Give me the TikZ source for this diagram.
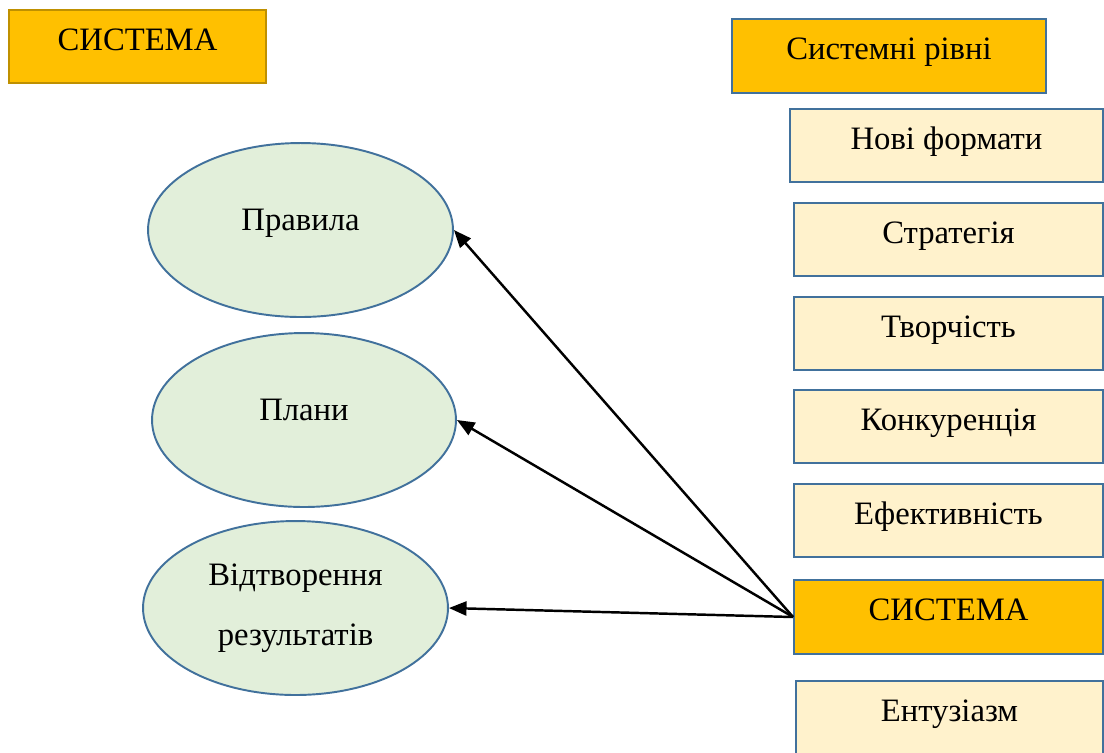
\documentclass[tikz,border=0pt]{standalone}
\usepackage{fontspec}
\setmainfont{Liberation Serif}
\usetikzlibrary{shapes.geometric}
\usetikzlibrary{arrows.meta}

\definecolor{gold}{HTML}{FFC000}
\definecolor{darkgold}{HTML}{BF9000}
\definecolor{paleyellow}{HTML}{FFF2CC}
\definecolor{palegreen}{HTML}{E2EFDA}
\definecolor{edgeblue}{HTML}{41719C}

\begin{document}
\begin{tikzpicture}[x=0.02cm,y=-0.02cm,
  every node/.style={font=\fontsize{18.6}{34}\selectfont,inner sep=0pt},
  goldbox/.style={draw=edgeblue,line width=1.1pt,fill=gold,minimum height=1.46cm,text height=.7em,text depth=.25em},
  levelbox/.style={draw=edgeblue,line width=1.1pt,fill=paleyellow,minimum width=6.18cm,minimum height=1.46cm,text height=.7em,text depth=.25em},
  oval/.style={ellipse,draw=edgeblue,line width=1.1pt,fill=palegreen,minimum width=6.1cm,minimum height=3.48cm,align=center},
  oneline/.style={text height=.7em,text depth=.68em},
  link/.style={-{Triangle[length=10pt,width=8pt]},line width=1.4pt}]

\clip (0,0) rectangle (1104,752);
\useasboundingbox (0,0) rectangle (1104,752);

\node[goldbox,draw=darkgold,minimum width=5.14cm] (sysL) at (137.5,46.5) {СИСТЕМА};
\node[goldbox,minimum width=6.28cm,minimum height=1.48cm] (levels) at (889,56) {Системні рівні};

\node[levelbox,minimum width=6.26cm] (formats) at (946.5,145.5) {Нові формати};
\node[levelbox] (strategy) at (948.5,239.5) {Стратегія};
\node[levelbox] (creativity) at (948.5,333.5) {Творчість};
\node[levelbox] (competition) at (948.5,426.5) {Конкуренція};
\node[levelbox] (efficiency) at (948.5,520.5) {Ефективність};
\node[goldbox,minimum width=6.18cm,minimum height=1.48cm] (sysR) at (948.5,617) {СИСТЕМА};
\node[levelbox,minimum width=6.14cm] (enthusiasm) at (949.5,717.5) {Ентузіазм};

\node[oval,oneline] (rules) at (300.5,230) {Правила};
\node[oval,oneline,minimum width=6.08cm] (plans) at (304,420) {Плани};
\node[oval] (reproduce) at (295.5,608) {Відтворення\\результатів};

\draw[link] (sysR.west) -- (rules.east);
\draw[link] (sysR.west) -- (plans.east);
\draw[link] (sysR.west) -- (reproduce.east);

\end{tikzpicture}
\end{document}
